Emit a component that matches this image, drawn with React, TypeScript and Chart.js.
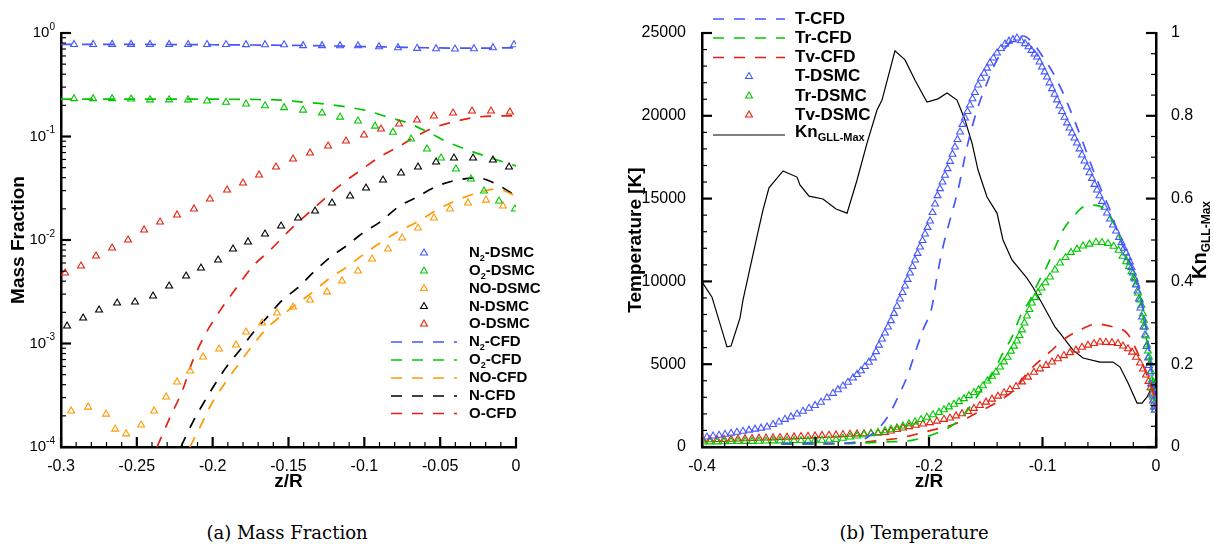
import React, { useEffect, useRef } from 'react';
import { Chart, registerables } from 'chart.js';

Chart.register(...registerables);

const FONT = '"Liberation Sans", Arial, Helvetica, sans-serif';
const BLUE = 'rgb(70, 86, 255)';
const GREEN = 'rgb(0, 200, 0)';
const RED = 'rgb(228, 34, 18)';
const ORANGE = 'rgb(255, 153, 0)';
const BLACK = '#000000';

// ---------------- (a) Mass fraction ----------------
const MF_X_MIN = -0.3;
const MF_X_MAX = 0;
const MF_Y_DECADES = [1e-4, 1e-3, 1e-2, 1e-1, 1];

const N2_DSMC_Z = [-0.2914, -0.2788, -0.2663, -0.2538, -0.2413, -0.2287, -0.2162, -0.2037, -0.1912, -0.178, -0.1655, -0.1529, -0.1404, -0.1279, -0.116, -0.1042, -0.0903, -0.0778, -0.0652, -0.0527, -0.0402, -0.0277, -0.0152, -0.0013];
const N2_DSMC = [0.775, 0.775, 0.776, 0.776, 0.775, 0.775, 0.774, 0.774, 0.773, 0.772, 0.771, 0.77, 0.755, 0.755, 0.754, 0.752, 0.737, 0.721, 0.711, 0.705, 0.7, 0.705, 0.721, 0.771];

const O2_DSMC_Z = [-0.2914, -0.2788, -0.2663, -0.2538, -0.2413, -0.2287, -0.2162, -0.2037, -0.1912, -0.178, -0.1655, -0.1529, -0.1404, -0.1279, -0.116, -0.1042, -0.0929, -0.0811, -0.0692, -0.0587, -0.0494, -0.0396, -0.0297, -0.0211, -0.0112, -0.0007];
const O2_DSMC = [0.232, 0.232, 0.232, 0.23, 0.226, 0.226, 0.226, 0.22, 0.214, 0.206, 0.198, 0.19, 0.18, 0.169, 0.154, 0.141, 0.126, 0.11, 0.0946, 0.0757, 0.062, 0.0485, 0.0388, 0.0297, 0.0238, 0.0199];

const NO_DSMC_Z = [-0.2933, -0.2821, -0.2703, -0.2643, -0.2571, -0.2472, -0.2386, -0.2307, -0.2235, -0.2149, -0.2063, -0.1958, -0.1846, -0.178, -0.1674, -0.1576, -0.147, -0.1358, -0.1246, -0.1147, -0.1042, -0.0949, -0.0844, -0.0751, -0.0646, -0.0541, -0.0435, -0.0316, -0.0198, -0.0086];
const NO_DSMC = [2.23e-4, 2.43e-4, 2.08e-4, 1.49e-4, 1.34e-4, 1.63e-4, 2.23e-4, 3.04e-4, 4.25e-4, 5.42e-4, 7.41e-4, 8.85e-4, 9.68e-4, 1.29e-3, 1.58e-3, 1.97e-3, 2.25e-3, 2.63e-3, 3.15e-3, 4.02e-3, 5.02e-3, 6.55e-3, 8.19e-3, 1.045e-2, 1.305e-2, 1.633e-2, 1.995e-2, 2.28e-2, 2.43e-2, 2.13e-2];

const N_DSMC_Z = [-0.296, -0.2854, -0.2749, -0.263, -0.2512, -0.2393, -0.2287, -0.2175, -0.2077, -0.1964, -0.1866, -0.1767, -0.1655, -0.1549, -0.1437, -0.1325, -0.1213, -0.1094, -0.0989, -0.0877, -0.0758, -0.0646, -0.0527, -0.0409, -0.0283, -0.0152, -0.0046];
const N_DSMC = [1.476e-3, 1.763e-3, 2.108e-3, 2.461e-3, 2.518e-3, 2.877e-3, 3.594e-3, 4.49e-3, 5.363e-3, 6.406e-3, 8.186e-3, 9.572e-3, 1.143e-2, 1.366e-2, 1.632e-2, 1.906e-2, 2.277e-2, 2.661e-2, 3.178e-2, 3.798e-2, 4.437e-2, 5.074e-2, 5.671e-2, 6.198e-2, 6.198e-2, 5.929e-2, 5.074e-2];

const O_DSMC_Z = [-0.2973, -0.2868, -0.2769, -0.2663, -0.2558, -0.2452, -0.2347, -0.2235, -0.2123, -0.2018, -0.1905, -0.18, -0.1694, -0.1582, -0.147, -0.1358, -0.1239, -0.1121, -0.1002, -0.089, -0.0771, -0.0653, -0.0541, -0.0415, -0.029, -0.0165, -0.004];
const O_DSMC = [4.8e-3, 5.61e-3, 7.0e-3, 8.37e-3, 1.0e-2, 1.25e-2, 1.493e-2, 1.746e-2, 1.995e-2, 2.489e-2, 3.041e-2, 3.555e-2, 4.249e-2, 5.074e-2, 6.061e-2, 6.929e-2, 8.095e-2, 9.046e-2, 0.1033, 0.1181, 0.1321, 0.1443, 0.1578, 0.1687, 0.1763, 0.1763, 0.1725];

const N2_CFD_Z = [-0.3, -0.25, -0.2, -0.15, -0.12, -0.1, -0.08, -0.06, -0.04, -0.02, 0];
const N2_CFD = [0.775, 0.775, 0.77, 0.76, 0.75, 0.74, 0.73, 0.72, 0.715, 0.715, 0.72];

const O2_CFD_Z = [-0.3, -0.241, -0.175, -0.1556, -0.1404, -0.1259, -0.1114, -0.0976, -0.0844, -0.0712, -0.058, -0.0448, -0.0316, -0.0185, 0];
const O2_CFD = [0.23, 0.23, 0.228, 0.225, 0.215, 0.206, 0.193, 0.176, 0.154, 0.135, 0.11, 0.088, 0.074, 0.0635, 0.052];

const NO_CFD_Z = [-0.215, -0.2083, -0.2004, -0.1918, -0.1819, -0.1734, -0.1641, -0.1523, -0.1437, -0.1338, -0.1226, -0.1114, -0.1009, -0.0897, -0.0784, -0.0653, -0.0521, -0.0389, -0.0257, -0.0125, 0];
const NO_CFD = [1.0e-4, 1.56e-4, 2.66e-4, 4.15e-4, 6.6e-4, 9.7e-4, 1.41e-3, 1.97e-3, 2.46e-3, 3.15e-3, 4.3e-3, 5.5e-3, 7.2e-3, 9.35e-3, 1.19e-2, 1.49e-2, 1.95e-2, 2.43e-2, 2.84e-2, 3.11e-2, 2.66e-2];

const N_CFD_Z = [-0.221, -0.213, -0.206, -0.198, -0.19, -0.182, -0.173, -0.164, -0.154, -0.144, -0.134, -0.123, -0.111, -0.101, -0.0897, -0.0778, -0.0653, -0.0534, -0.0389, -0.025, -0.0119, 0];
const N_CFD = [1.0e-4, 1.75e-4, 2.66e-4, 4.15e-4, 6.2e-4, 8.65e-4, 1.29e-3, 1.8e-3, 2.63e-3, 3.44e-3, 4.8e-3, 6.7e-3, 8.95e-3, 1.17e-2, 1.49e-2, 2.08e-2, 2.6e-2, 3.25e-2, 3.8e-2, 3.97e-2, 3.4e-2, 2.66e-2];

const O_CFD_Z = [-0.2367, -0.228, -0.22, -0.213, -0.204, -0.194, -0.184, -0.173, -0.164, -0.147, -0.136, -0.125, -0.114, -0.103, -0.091, -0.078, -0.0666, -0.0547, -0.0415, -0.0257, -0.0105, 0];
const O_CFD = [1.0e-4, 1.95e-4, 3.5e-4, 6.9e-4, 1.29e-3, 2.2e-3, 3.5e-3, 5.7e-3, 7.5e-3, 1.34e-2, 1.87e-2, 2.6e-2, 3.56e-2, 4.65e-2, 6.2e-2, 7.9e-2, 9.9e-2, 0.121, 0.138, 0.154, 0.158, 0.158];

// ---------------- (b) Temperature ----------------
const T_X_MIN = -0.4;
const T_X_MAX = 0;
const T_Y_MAX = 25000;
const KN_MAX = 1;

const T_CFD_Z = [-0.33, -0.3, -0.28, -0.265, -0.255, -0.2432, -0.2344, -0.2273, -0.2194, -0.2123, -0.2053, -0.1974, -0.193, -0.1877, -0.1815, -0.1744, -0.1665, -0.1577, -0.1489, -0.1401, -0.1286, -0.1172, -0.1084, -0.0996, -0.0907, -0.0819, -0.0731, -0.0652, -0.0564, -0.0493, -0.0405, -0.0335, -0.0273, -0.0203, -0.0141, -0.0097, -0.005, 0];
const T_CFD = [200, 200, 220, 300, 560, 1210, 2050, 3020, 4230, 5680, 7070, 8460, 10270, 12080, 13710, 15520, 18120, 20350, 21980, 23370, 24400, 24820, 24400, 23550, 22590, 21380, 19930, 18540, 16910, 15700, 14310, 12920, 11900, 10700, 9400, 7700, 5300, 2800];

const TR_CFD_Z = [-0.33, -0.3, -0.27, -0.24, -0.214, -0.193, -0.1753, -0.1639, -0.1551, -0.1436, -0.1348, -0.1269, -0.1198, -0.111, -0.104, -0.096, -0.0872, -0.0819, -0.0731, -0.0643, -0.0555, -0.0467, -0.0405, -0.0344, -0.0291, -0.0229, -0.0185, -0.0141, -0.007, 0];
const TR_CFD = [180, 190, 220, 300, 420, 850, 1510, 2420, 3320, 4470, 5680, 6640, 7850, 8880, 9900, 10930, 12320, 13100, 13890, 14490, 14610, 14430, 13890, 13100, 12080, 10870, 10080, 9060, 5860, 2840];

const TV_CFD_Z = [-0.33, -0.3, -0.27, -0.2405, -0.2256, -0.214, -0.1965, -0.175, -0.158, -0.14, -0.1313, -0.1225, -0.1137, -0.1048, -0.0934, -0.0819, -0.067, -0.052, -0.0379, -0.0256, -0.0203, -0.0097, 0];
const TV_CFD = [180, 200, 220, 420, 540, 725, 1030, 1450, 2050, 2700, 3100, 3620, 4470, 5070, 5740, 6460, 7070, 7430, 7250, 6880, 6280, 4650, 2840];

const T_DSMC_Z = [-0.3956, -0.3903, -0.385, -0.3797, -0.3744, -0.3692, -0.3639, -0.3586, -0.3533, -0.348, -0.3427, -0.3374, -0.3322, -0.3269, -0.3216, -0.3163, -0.311, -0.3057, -0.3004, -0.2952, -0.2899, -0.2846, -0.2802, -0.2758, -0.2714, -0.267, -0.2634, -0.2599, -0.2564, -0.2529, -0.2493, -0.2467, -0.2441, -0.2414, -0.2388, -0.2361, -0.2335, -0.2308, -0.2282, -0.2256, -0.2233, -0.2211, -0.2189, -0.2167, -0.2145, -0.2123, -0.2101, -0.2079, -0.2057, -0.2035, -0.2013, -0.1991, -0.1969, -0.1947, -0.1925, -0.1903, -0.1881, -0.1859, -0.1837, -0.1815, -0.1793, -0.1771, -0.1749, -0.1727, -0.1705, -0.1683, -0.1661, -0.1639, -0.1617, -0.1595, -0.1568, -0.1542, -0.1515, -0.1489, -0.1463, -0.1432, -0.1401, -0.1366, -0.133, -0.1295, -0.126, -0.1225, -0.1189, -0.1154, -0.1123, -0.1097, -0.107, -0.1048, -0.1026, -0.1004, -0.0982, -0.096, -0.0938, -0.0916, -0.0894, -0.0872, -0.085, -0.0828, -0.0806, -0.0784, -0.0762, -0.074, -0.0718, -0.0696, -0.0674, -0.0652, -0.063, -0.0608, -0.0586, -0.0564, -0.0542, -0.052, -0.0498, -0.0476, -0.0454, -0.0432, -0.0405, -0.0379, -0.0352, -0.0326, -0.0304, -0.0282, -0.0264, -0.0247, -0.0229, -0.0216, -0.0203, -0.0189, -0.0176, -0.0163, -0.015, -0.0137, -0.0123, -0.011, -0.0097, -0.0084, -0.007, -0.0062, -0.0053, -0.0044, -0.0035, -0.0026, -0.0018, -0.0009];
const T_DSMC = [600, 660, 710, 770, 830, 890, 950, 1020, 1080, 1140, 1210, 1360, 1510, 1670, 1820, 1990, 2160, 2340, 2510, 2700, 2970, 3240, 3460, 3680, 3910, 4170, 4380, 4600, 4860, 5120, 5380, 5760, 6150, 6520, 6880, 7250, 7630, 8070, 8500, 8940, 9330, 9720, 10120, 10510, 10900, 11290, 11690, 12080, 12470, 12860, 13260, 13650, 14160, 14670, 15180, 15600, 16000, 16410, 16810, 17250, 17680, 18120, 18570, 19020, 19480, 19870, 20260, 20650, 21030, 21410, 21860, 22270, 22570, 22880, 23190, 23490, 23790, 24060, 24330, 24510, 24600, 24700, 24530, 24360, 24170, 23950, 23730, 23550, 23250, 22950, 22650, 22340, 21990, 21640, 21300, 20960, 20610, 20260, 19910, 19570, 19260, 18960, 18660, 18360, 18000, 17630, 17270, 16910, 16560, 16220, 15860, 15520, 15170, 14830, 14480, 14130, 13770, 13410, 13040, 12660, 12340, 12000, 11720, 11450, 11170, 10840, 10510, 10150, 9780, 9420, 8940, 8390, 7850, 7250, 6760, 6070, 5380, 4920, 4470, 3810, 3140, 2780, 2420, 2230];

const TR_DSMC_Z = [-0.3991, -0.393, -0.3868, -0.3806, -0.3744, -0.3683, -0.3621, -0.3559, -0.3498, -0.3436, -0.3374, -0.3313, -0.3251, -0.3189, -0.3128, -0.3066, -0.3004, -0.2943, -0.2881, -0.2819, -0.2758, -0.2696, -0.2634, -0.2573, -0.2511, -0.2449, -0.2388, -0.2335, -0.2282, -0.2229, -0.2176, -0.2123, -0.207, -0.2018, -0.1965, -0.1912, -0.1868, -0.1824, -0.178, -0.1736, -0.1692, -0.1648, -0.1604, -0.1564, -0.1524, -0.1485, -0.1445, -0.141, -0.1374, -0.1339, -0.1308, -0.1278, -0.1251, -0.1225, -0.1203, -0.1181, -0.1159, -0.1137, -0.1115, -0.1093, -0.1066, -0.104, -0.1009, -0.0974, -0.0934, -0.089, -0.0846, -0.0797, -0.0749, -0.0696, -0.0643, -0.0586, -0.0529, -0.0476, -0.0423, -0.0374, -0.033, -0.0295, -0.0264, -0.0238, -0.0216, -0.0194, -0.0176, -0.0159, -0.0141, -0.0128, -0.0115, -0.0106, -0.0097, -0.0088, -0.0079, -0.007, -0.0062, -0.0053, -0.0044, -0.0035, -0.0031, -0.0026, -0.0018, -0.0009];
const TR_DSMC = [300, 310, 310, 320, 330, 330, 340, 340, 350, 360, 370, 370, 380, 390, 390, 400, 410, 410, 420, 450, 530, 600, 660, 740, 810, 880, 980, 1070, 1160, 1270, 1400, 1520, 1660, 1800, 1950, 2090, 2250, 2420, 2580, 2740, 2920, 3100, 3290, 3450, 3700, 3990, 4270, 4520, 4830, 5140, 5420, 5790, 6090, 6400, 6730, 7070, 7490, 7910, 8300, 8700, 9020, 9320, 9600, 9920, 10270, 10690, 11110, 11440, 11750, 11950, 12140, 12250, 12360, 12350, 12290, 12120, 11880, 11520, 11190, 10910, 10590, 10230, 9830, 9300, 8880, 8560, 8050, 7650, 7250, 6700, 6160, 5800, 5440, 5070, 4560, 4050, 3530, 3020, 2630, 2230];

const TV_DSMC_Z = [-0.3991, -0.393, -0.3868, -0.3806, -0.3744, -0.3683, -0.3621, -0.3559, -0.3498, -0.3436, -0.3374, -0.3313, -0.3251, -0.3189, -0.3128, -0.3066, -0.3004, -0.2943, -0.2881, -0.2819, -0.2758, -0.2696, -0.2634, -0.2573, -0.2511, -0.2449, -0.2388, -0.2335, -0.2282, -0.2229, -0.2176, -0.2115, -0.2053, -0.1991, -0.193, -0.1868, -0.1815, -0.1762, -0.1709, -0.1656, -0.1604, -0.1551, -0.1498, -0.1445, -0.1392, -0.1339, -0.1286, -0.1233, -0.1181, -0.1128, -0.1075, -0.1022, -0.0969, -0.0916, -0.0863, -0.0811, -0.0758, -0.0705, -0.0652, -0.0599, -0.0546, -0.0493, -0.0441, -0.0388, -0.0335, -0.0291, -0.0247, -0.0211, -0.0176, -0.0141, -0.0115, -0.0088, -0.0066, -0.0048, -0.0035, -0.0022, -0.0009];
const TV_DSMC = [420, 440, 450, 460, 470, 480, 500, 510, 530, 540, 550, 570, 590, 610, 630, 650, 670, 700, 710, 730, 750, 770, 790, 800, 820, 830, 880, 970, 1060, 1150, 1230, 1310, 1390, 1470, 1560, 1670, 1750, 1880, 2010, 2140, 2330, 2510, 2710, 2890, 3070, 3270, 3470, 3650, 3930, 4220, 4510, 4720, 4930, 5130, 5330, 5520, 5700, 5850, 6020, 6150, 6250, 6340, 6320, 6300, 6250, 6100, 5930, 5730, 5420, 5070, 4710, 4350, 3960, 3580, 3260, 2840, 2420];

const KN_Z = [-0.4, -0.3912, -0.378, -0.3744, -0.3665, -0.3639, -0.3577, -0.3507, -0.3463, -0.341, -0.3286, -0.3163, -0.3137, -0.3057, -0.2934, -0.2819, -0.2722, -0.2634, -0.2546, -0.2458, -0.2414, -0.23, -0.2211, -0.2123, -0.2018, -0.1921, -0.1841, -0.1753, -0.1683, -0.1621, -0.1568, -0.1489, -0.1401, -0.1348, -0.1269, -0.1137, -0.1084, -0.0996, -0.089, -0.0846, -0.0731, -0.0643, -0.0493, -0.0379, -0.0317, -0.0247, -0.0167, -0.0123, -0.0079, -0.0035, 0];
const KN = [0.399, 0.362, 0.242, 0.244, 0.312, 0.355, 0.432, 0.519, 0.572, 0.626, 0.667, 0.652, 0.633, 0.606, 0.599, 0.575, 0.565, 0.645, 0.734, 0.814, 0.838, 0.957, 0.935, 0.886, 0.833, 0.841, 0.855, 0.838, 0.79, 0.734, 0.669, 0.604, 0.565, 0.5, 0.452, 0.408, 0.386, 0.343, 0.29, 0.275, 0.234, 0.215, 0.205, 0.205, 0.193, 0.155, 0.106, 0.106, 0.121, 0.145, 0.167];

// ---------------- helpers ----------------
const pts = (zs: number[], vs: number[]) => zs.map((z, i) => ({ x: z, y: vs[i] }));

function linearTicks(min: number, max: number, minor: number, major: number) {
  return (scale: any) => {
    const n = Math.round((max - min) / minor);
    const t: any[] = [];
    for (let i = 0; i <= n; i++) {
      const v = Math.round((min + i * minor) * 1e6) / 1e6;
      const r = v / major;
      t.push({ value: v, major: Math.abs(r - Math.round(r)) < 1e-6 });
    }
    scale.ticks = t;
  };
}

function logTicks(decades: number[]) {
  return (scale: any) => {
    const t: any[] = [];
    decades.forEach((d, i) => {
      t.push({ value: d, major: true });
      if (i < decades.length - 1) for (let k = 2; k <= 9; k++) t.push({ value: d * k, major: false });
    });
    scale.ticks = t;
  };
}

const fmtNum = (v: number) => String(Math.round(v * 1e6) / 1e6);
const labelCb = (fmt: (v: number) => string) => (v: any, i: number, ticks: any[]) => (ticks[i] && ticks[i].major ? fmt(Number(v)) : '');

function parseRich(s: string) {
  const out: { t: string; sub: boolean }[] = [];
  const re = /_\{([^}]*)\}/g;
  let last = 0;
  let m: RegExpExecArray | null;
  while ((m = re.exec(s))) {
    if (m.index > last) out.push({ t: s.slice(last, m.index), sub: false });
    out.push({ t: m[1], sub: true });
    last = re.lastIndex;
  }
  if (last < s.length) out.push({ t: s.slice(last), sub: false });
  return out;
}

function drawRich(ctx: CanvasRenderingContext2D, s: string, x: number, y: number, size: number, align: 'left' | 'center') {
  const segs = parseRich(s);
  const sub = Math.round(size * 0.62);
  const f = (sz: number) => `bold ${sz}px ${FONT}`;
  const widths = segs.map((g) => {
    ctx.font = f(g.sub ? sub : size);
    return ctx.measureText(g.t).width;
  });
  const total = widths.reduce((a, b) => a + b, 0);
  let cx = align === 'center' ? x - total / 2 : x;
  ctx.textAlign = 'left';
  ctx.textBaseline = 'middle';
  segs.forEach((g, i) => {
    ctx.font = f(g.sub ? sub : size);
    ctx.fillText(g.t, cx, g.sub ? y + size * 0.34 : y);
    cx += widths[i];
  });
}

const inwardTicks = {
  id: 'inwardTicks',
  afterDraw(chart: any) {
    const { ctx, chartArea: ca } = chart;
    ctx.save();
    ctx.strokeStyle = '#000';
    Object.values(chart.scales).forEach((s: any) => {
      const pos = s.options.position;
      s.ticks.forEach((t: any) => {
        const p = s.getPixelForValue(t.value);
        const len = t.major ? 10 : 5;
        ctx.lineWidth = t.major ? 2.2 : 1.2;
        ctx.beginPath();
        if (pos === 'bottom') {
          ctx.moveTo(p, ca.bottom);
          ctx.lineTo(p, ca.bottom - len);
        } else if (pos === 'left') {
          ctx.moveTo(ca.left, p);
          ctx.lineTo(ca.left + len, p);
        } else {
          ctx.moveTo(ca.right, p);
          ctx.lineTo(ca.right - len, p);
        }
        ctx.stroke();
      });
    });
    ctx.restore();
  },
};

// power-of-ten labels with a real raised exponent, placed on the log scale's own ticks
const powerLabels = {
  id: 'powerLabels',
  afterDraw(chart: any) {
    const s = chart.scales.y;
    if (!s || s.type !== 'logarithmic') return;
    const ctx: CanvasRenderingContext2D = chart.ctx;
    const right = chart.chartArea.left - 6;
    ctx.save();
    ctx.fillStyle = '#000';
    ctx.textBaseline = 'middle';
    ctx.textAlign = 'left';
    s.ticks.forEach((t: any) => {
      if (!t.major) return;
      const y = s.getPixelForValue(t.value);
      const exp = String(Math.round(Math.log10(t.value)));
      ctx.font = `15px ${FONT}`;
      const wb = ctx.measureText('10').width;
      ctx.font = `10px ${FONT}`;
      const we = ctx.measureText(exp).width;
      const x0 = right - wb - we;
      ctx.font = `15px ${FONT}`;
      ctx.fillText('10', x0, y);
      ctx.font = `10px ${FONT}`;
      ctx.fillText(exp, x0 + wb, y - 6);
    });
    ctx.restore();
  },
};

type LegendCfg = { lineX1: number; lineX2: number; symX: number; textX: number; size: number; rows: { ds: number; y: number; ty?: number }[] };

function makeLegend(cfg: LegendCfg) {
  return {
    id: 'customLegend',
    afterDraw(chart: any) {
      const ctx: CanvasRenderingContext2D = chart.ctx;
      ctx.save();
      cfg.rows.forEach((row) => {
        const ds = chart.data.datasets[row.ds];
        const y = row.y;
        ctx.strokeStyle = ds.borderColor;
        if (ds.showLine) {
          ctx.lineWidth = ds.borderWidth;
          ctx.setLineDash(ds.borderDash || []);
          ctx.beginPath();
          ctx.moveTo(cfg.lineX1, y);
          ctx.lineTo(cfg.lineX2, y);
          ctx.stroke();
          ctx.setLineDash([]);
        } else {
          const r = ds.pointRadius;
          ctx.lineWidth = ds.pointBorderWidth;
          ctx.beginPath();
          ctx.moveTo(cfg.symX, y - r);
          ctx.lineTo(cfg.symX + 0.866 * r, y + 0.5 * r);
          ctx.lineTo(cfg.symX - 0.866 * r, y + 0.5 * r);
          ctx.closePath();
          ctx.stroke();
        }
        ctx.fillStyle = '#000';
        drawRich(ctx, ds.label, cfg.textX, row.ty ?? y, cfg.size, 'left');
      });
      ctx.restore();
    },
  };
}

const knTitle = {
  id: 'knTitle',
  afterDraw(chart: any) {
    const ctx: CanvasRenderingContext2D = chart.ctx;
    ctx.save();
    ctx.fillStyle = '#000';
    ctx.translate(chart.chartArea.right + 44, (chart.chartArea.top + chart.chartArea.bottom) / 2);
    ctx.rotate(-Math.PI / 2);
    drawRich(ctx, 'Kn_{GLL-Max}', 0, 0, 20, 'center');
    ctx.restore();
  },
};

const tri = (label: string, zs: number[], vs: number[], color: string, extra: any = {}) => ({
  label,
  data: pts(zs, vs),
  showLine: false,
  pointStyle: 'triangle',
  pointRadius: 4,
  pointHoverRadius: 4,
  borderColor: color,
  pointBorderColor: color,
  backgroundColor: 'rgba(0,0,0,0)',
  pointBackgroundColor: 'rgba(0,0,0,0)',
  pointBorderWidth: 1.1,
  ...extra,
});

const dash = (label: string, zs: number[], vs: number[], color: string, extra: any = {}) => ({
  label,
  data: pts(zs, vs),
  showLine: true,
  pointRadius: 0,
  pointHoverRadius: 0,
  borderColor: color,
  backgroundColor: color,
  borderWidth: 1.7,
  borderDash: [11, 10],
  cubicInterpolationMode: 'monotone',
  fill: false,
  ...extra,
});

const tickFont = { family: FONT, size: 16 };
const titleFont = { family: FONT, size: 19, weight: 'bold' as const };
const axisBorder = { display: true, color: '#000', width: 2.5 };

function leftConfig(): any {
  return {
    type: 'scatter',
    data: {
      datasets: [
        tri('N_{2}-DSMC', N2_DSMC_Z, N2_DSMC, BLUE),
        tri('O_{2}-DSMC', O2_DSMC_Z, O2_DSMC, GREEN),
        tri('NO-DSMC', NO_DSMC_Z, NO_DSMC, ORANGE),
        tri('N-DSMC', N_DSMC_Z, N_DSMC, BLACK),
        tri('O-DSMC', O_DSMC_Z, O_DSMC, RED),
        dash('N_{2}-CFD', N2_CFD_Z, N2_CFD, BLUE),
        dash('O_{2}-CFD', O2_CFD_Z, O2_CFD, GREEN),
        dash('NO-CFD', NO_CFD_Z, NO_CFD, ORANGE),
        dash('N-CFD', N_CFD_Z, N_CFD, BLACK),
        dash('O-CFD', O_CFD_Z, O_CFD, RED),
      ],
    },
    options: {
      animation: false,
      responsive: false,
      maintainAspectRatio: false,
      events: [],
      layout: { padding: { left: 0, right: 84, top: 33, bottom: 0 } },
      plugins: { legend: { display: false }, tooltip: { enabled: false } },
      scales: {
        x: {
          type: 'linear',
          position: 'bottom',
          min: MF_X_MIN,
          max: MF_X_MAX,
          afterBuildTicks: linearTicks(MF_X_MIN, MF_X_MAX, 0.01, 0.05),
          afterFit: (s: any) => { s.height = 63; },
          grid: { display: false },
          border: axisBorder,
          ticks: { autoSkip: false, maxRotation: 0, padding: 2, font: tickFont, color: '#000', callback: labelCb(fmtNum) },
          title: { display: true, text: 'z/R', font: titleFont, color: '#000', padding: { top: 0, bottom: 17 } },
        },
        y: {
          type: 'logarithmic',
          position: 'left',
          min: MF_Y_DECADES[0],
          max: MF_Y_DECADES[MF_Y_DECADES.length - 1],
          afterBuildTicks: logTicks(MF_Y_DECADES),
          afterFit: (s: any) => { s.width = 61; },
          grid: { display: false },
          border: axisBorder,
          ticks: { autoSkip: false, padding: 7, font: tickFont, color: '#000', callback: () => '' },
          title: { display: true, text: 'Mass Fraction', font: titleFont, color: '#000', padding: { top: 7.6, bottom: 0 } },
        },
      },
    },
    plugins: [
      inwardTicks,
      powerLabels,
      makeLegend({
        lineX1: 391, lineX2: 457, symX: 424, textX: 469, size: 15,
        rows: [
          { ds: 0, y: 253 }, { ds: 1, y: 271 }, { ds: 2, y: 288.5 }, { ds: 3, y: 306.5 }, { ds: 4, y: 324 },
          { ds: 5, y: 342 }, { ds: 6, y: 360 }, { ds: 7, y: 378 }, { ds: 8, y: 396 }, { ds: 9, y: 413.5 },
        ],
      }),
    ],
  };
}

function rightConfig(): any {
  return {
    type: 'scatter',
    data: {
      datasets: [
        dash('T-CFD', T_CFD_Z, T_CFD, BLUE),
        dash('Tr-CFD', TR_CFD_Z, TR_CFD, GREEN),
        dash('Tv-CFD', TV_CFD_Z, TV_CFD, RED),
        tri('T-DSMC', T_DSMC_Z, T_DSMC, BLUE),
        tri('Tr-DSMC', TR_DSMC_Z, TR_DSMC, GREEN),
        tri('Tv-DSMC', TV_DSMC_Z, TV_DSMC, RED),
        {
          label: 'Kn_{GLL-Max}',
          data: pts(KN_Z, KN),
          showLine: true,
          pointRadius: 0,
          pointHoverRadius: 0,
          borderColor: BLACK,
          backgroundColor: BLACK,
          borderWidth: 1.2,
          tension: 0,
          yAxisID: 'y1',
        },
      ],
    },
    options: {
      animation: false,
      responsive: false,
      maintainAspectRatio: false,
      events: [],
      layout: { padding: { left: 0, right: 0, top: 33, bottom: 0 } },
      plugins: { legend: { display: false }, tooltip: { enabled: false } },
      scales: {
        x: {
          type: 'linear',
          position: 'bottom',
          min: T_X_MIN,
          max: T_X_MAX,
          afterBuildTicks: linearTicks(T_X_MIN, T_X_MAX, 0.02, 0.1),
          afterFit: (s: any) => { s.height = 63; },
          grid: { display: false },
          border: axisBorder,
          ticks: { autoSkip: false, maxRotation: 0, padding: 2, font: tickFont, color: '#000', callback: labelCb(fmtNum) },
          title: { display: true, text: 'z/R', font: titleFont, color: '#000', padding: { top: 0, bottom: 17 } },
        },
        y: {
          type: 'linear',
          position: 'left',
          min: 0,
          max: T_Y_MAX,
          afterBuildTicks: linearTicks(0, T_Y_MAX, 1000, 5000),
          afterFit: (s: any) => { s.width = 102; },
          grid: { display: false },
          border: axisBorder,
          ticks: { autoSkip: false, padding: 8, font: tickFont, color: '#000', callback: labelCb(fmtNum) },
          title: { display: true, text: 'Temperature [K]', font: titleFont, color: '#000', padding: { top: 24.6, bottom: 0 } },
        },
        y1: {
          type: 'linear',
          position: 'right',
          min: 0,
          max: KN_MAX,
          afterBuildTicks: linearTicks(0, KN_MAX, 0.05, 0.2),
          afterFit: (s: any) => { s.width = 58; },
          grid: { display: false },
          border: axisBorder,
          ticks: { autoSkip: false, padding: 7, font: tickFont, color: '#000', callback: labelCb(fmtNum) },
        },
      },
    },
    plugins: [
      inwardTicks,
      knTitle,
      makeLegend({
        lineX1: 113, lineX2: 185, symX: 149, textX: 195, size: 17,
        rows: [
          { ds: 0, y: 19 }, { ds: 1, y: 38 }, { ds: 2, y: 57.5 }, { ds: 3, y: 76.5 },
          { ds: 4, y: 96 }, { ds: 5, y: 115 }, { ds: 6, y: 135, ty: 132 },
        ],
      }),
    ],
  };
}

function ChartCanvas({ make, left, width, height }: { make: () => any; left: number; width: number; height: number }) {
  const ref = useRef<HTMLCanvasElement>(null);
  useEffect(() => {
    const chart = new Chart(ref.current as HTMLCanvasElement, make());
    return () => chart.destroy();
  }, [make]);
  return (
    <div style={{ position: 'absolute', left, top: 0, width, height }}>
      <canvas ref={ref} width={width} height={height} style={{ width, height, display: 'block' }} />
    </div>
  );
}

const captionStyle: React.CSSProperties = {
  position: 'absolute',
  top: 522,
  width: 300,
  textAlign: 'center',
  fontFamily: '"DejaVu Serif", "Liberation Serif", serif',
  fontSize: 18,
  lineHeight: '22px',
  color: '#000',
};

export default function App() {
  return (
    <div style={{ position: 'absolute', left: 0, top: 0, width: 1214, height: 544, background: '#fff', overflow: 'hidden' }}>
      <ChartCanvas make={leftConfig} left={0} width={600} height={510} />
      <ChartCanvas make={rightConfig} left={600} width={614} height={510} />
      <div style={{ ...captionStyle, left: 137 }}>(a) Mass Fraction</div>
      <div style={{ ...captionStyle, left: 764 }}>(b) Temperature</div>
    </div>
  );
}
